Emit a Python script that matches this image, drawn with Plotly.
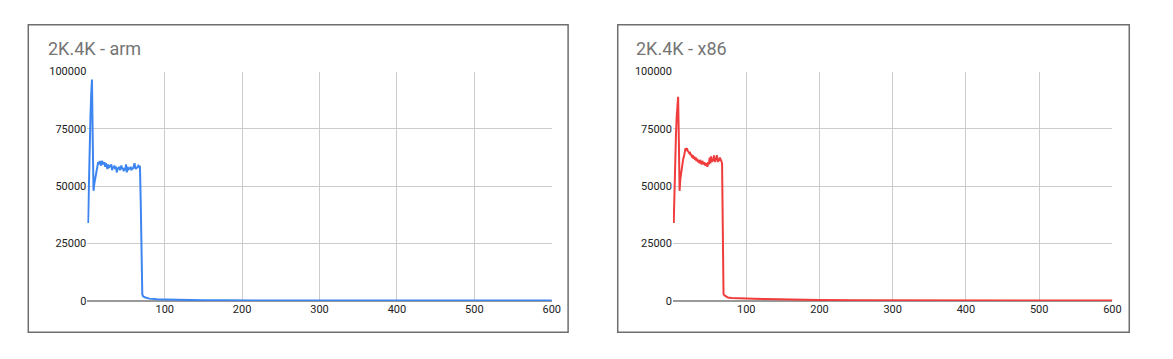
import plotly.graph_objects as go

# ---- data: arm ----
arm_x = list(range(1, 73)) + [73, 75, 80, 85, 90, 100, 110, 125, 150, 175, 200, 250, 300, 350, 400, 450, 500, 550, 600]
arm_y = [34000, 55000, 70000, 80000, 90000, 96500, 70000, 48000, 51000, 53000,
         54000, 56000, 58000, 60500, 59500, 61000, 60000, 59000, 61000, 60000,
         59500, 60500, 58500, 60000, 59000, 57500, 59500, 58000, 59000, 58500,
         59500, 57000, 58500, 58000, 59000, 57500, 58500, 56000, 58000, 57500,
         58500, 57000, 58000, 59000, 57500, 58000, 56500, 58000, 57000, 59500,
         56000, 58500, 57000, 58000, 57500, 58500, 57000, 58000, 57500, 58500,
         60000, 58000, 57500, 58500, 58000, 59000, 58500, 58500, 43000, 15000,
         3000, 2000,
         1800, 1500, 1000, 800, 700, 600, 500, 400, 300, 250, 200, 180, 160, 150, 150, 140, 140, 130, 130]

# ---- data: x86 ----
x86_x = list(range(1, 71)) + [72, 75, 80, 90, 100, 110, 125, 150, 175, 200, 250, 300, 350, 400, 450, 500, 550, 600]
x86_y = [34000, 50000, 62000, 72000, 80000, 86000, 89000, 70000, 48000, 53000,
         56000, 59000, 60000, 62000, 63000, 65000, 66500, 66000, 66500, 65500,
         65000, 64500, 65000, 63500, 64000, 62500, 63500, 62000, 63000, 61500,
         62500, 61000, 62000, 60500, 61500, 60000, 61500, 60500, 59500, 61000,
         60000, 59500, 60500, 59000, 60000, 59000, 58500, 60500, 59500, 62500,
         60000, 63000, 60500, 62000, 61000, 63500, 60500, 62500, 61500, 63500,
         60500, 62000, 61000, 62500, 61000, 61000, 60000, 30000, 3000, 2500,
         2000, 1500, 1300, 1100, 1000, 900, 800, 600, 500, 400, 300, 250, 220, 200, 200, 180, 170, 160]

titles = ["2K.4K - arm", "2K.4K - x86"]
x_ticks = [100, 200, 300, 400, 500, 600]
y_ticks = [0, 25000, 50000, 75000, 100000]
y_labels = ["0", "25000", "50000", "75000", "100000"]

W, H = 1173, 359
FONT = "Roboto, Arial, sans-serif"

def px(x):
    return x / W

def py(y):
    return (H - y) / H

fig = go.Figure()
fig.add_trace(go.Scatter(x=arm_x, y=arm_y, mode="lines", line=dict(color="#3d85f0", width=2),
                         xaxis="x", yaxis="y", showlegend=False, hoverinfo="skip"))
fig.add_trace(go.Scatter(x=x86_x, y=x86_y, mode="lines", line=dict(color="#f03c3c", width=2),
                         xaxis="x2", yaxis="y2", showlegend=False, hoverinfo="skip"))

xa = dict(range=[0, 600], tickvals=x_ticks, showgrid=True, gridcolor="#cccccc", gridwidth=1,
          zeroline=False, showline=False, ticks="", tickfont=dict(family=FONT, size=11, color="#222222"),
          fixedrange=True)
ya = dict(range=[0, 100000], tickvals=y_ticks, ticktext=y_labels, showgrid=True, gridcolor="#cccccc",
          gridwidth=1, zeroline=True, zerolinecolor="#999999", zerolinewidth=1.5, showline=False,
          ticks="", ticklen=0, tickfont=dict(family=FONT, size=11, color="#222222"), fixedrange=True)

fig.update_layout(
    autosize=True,
    margin=dict(l=0, r=0, t=0, b=0),
    paper_bgcolor="white", plot_bgcolor="white",
    hovermode=False,
    xaxis=dict(xa, domain=[px(88), px(556)], anchor="y"),
    yaxis=dict(ya, domain=[py(306), py(68)], anchor="x"),
    xaxis2=dict(xa, domain=[px(678.2), px(1121)], anchor="y2"),
    yaxis2=dict(ya, domain=[py(306), py(68)], anchor="x2"),
)

# panel borders
for (x0, x1) in [(28.5, 572.5), (622.5, 1138)]:
    fig.add_shape(type="rect", xref="paper", yref="paper",
                  x0=px(x0), x1=px(x1), y0=py(338.5), y1=py(19.5),
                  line=dict(color="#6e6e6e", width=1.5), fillcolor="rgba(0,0,0,0)", layer="below")

# titles
for t, x0 in zip(titles, [46, 639]):
    fig.add_annotation(text=t, xref="paper", yref="paper", x=px(x0), y=py(44),
                       xanchor="left", yanchor="middle", showarrow=False,
                       font=dict(family=FONT, size=18, color="#757575"))

fig.write_html("out.html",
               config={"displayModeBar": False, "responsive": True},
               default_width="100vw", default_height="100vh",
               post_script=("document.documentElement.style.margin='0';"
                            "document.body.style.margin='0';"
                            "document.body.style.overflow='hidden';"
                            "document.documentElement.style.overflow='hidden';"
                            "Plotly.Plots.resize(document.getElementById('{plot_id}'));"))
